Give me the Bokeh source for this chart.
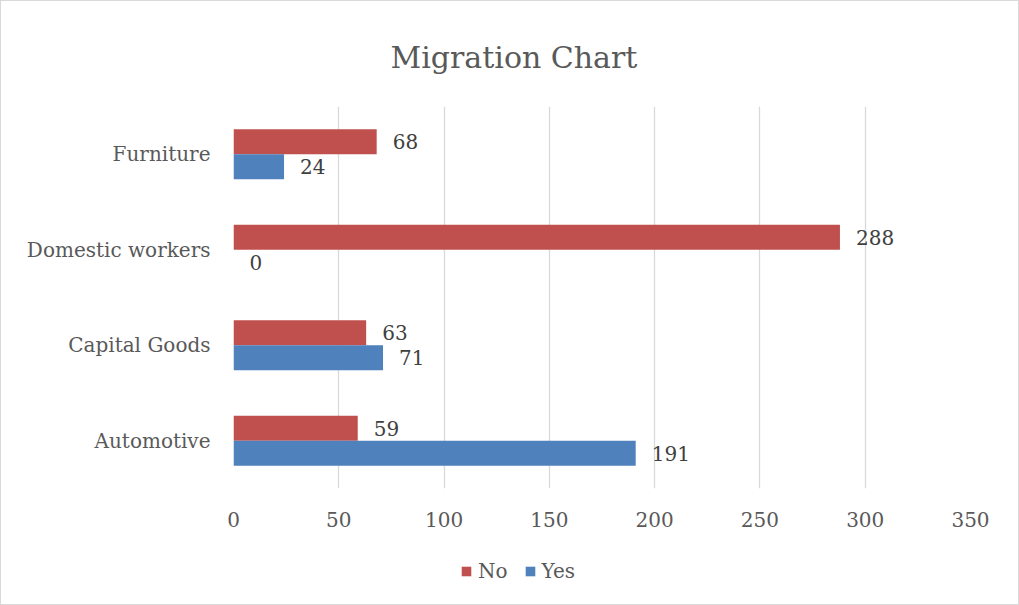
from bokeh.plotting import figure
from bokeh.layouts import column
from bokeh.models import ColumnDataSource, FactorRange, Range1d, FixedTicker, Legend, LegendItem
from bokeh.transform import dodge
from bokeh.core.properties import value
from bokeh.embed import file_html
from bokeh.resources import INLINE

categories = ["Automotive", "Capital Goods", "Domestic workers", "Furniture"]
no_values = [59, 63, 288, 68]
yes_values = [191, 71, 0, 24]
x_ticks = [0, 50, 100, 150, 200, 250, 300, 350]
series_names = ["No", "Yes"]
title_text = "Migration Chart"

FONT = "DejaVu Serif"
RED = "#C0504D"
BLUE = "#4F81BD"

src = ColumnDataSource(dict(
    cat=categories,
    no=no_values,
    yes=yes_values,
    no_lbl=[str(v) for v in no_values],
    yes_lbl=[str(v) for v in yes_values],
))

W = 1017
H_MAIN = 545
H_LEG = 58

p = figure(
    width=W, height=H_MAIN,
    y_range=FactorRange(factors=categories),
    x_range=Range1d(0, 350),
    output_backend="svg", toolbar_location=None,
    min_border_left=232, min_border_right=48,
    min_border_top=105, min_border_bottom=H_MAIN - 487,
    title=title_text,
)

p.title.align = "left"
p.title.offset = 157
p.title.text_font = FONT
p.title.text_font_size = "30px"
p.title.text_font_style = "normal"
p.title.text_color = "#595959"
p.title.standoff = 63

off = 0.131
hh = 0.262
p.hbar(y=dodge("cat", off, range=p.y_range), right="no", left=0, height=hh,
       source=src, fill_color=RED, line_color=None)
p.hbar(y=dodge("cat", -off, range=p.y_range), right="yes", left=0, height=hh,
       source=src, fill_color=BLUE, line_color=None)

p.text(x="no", y=dodge("cat", off, range=p.y_range), text="no_lbl", source=src,
       x_offset=16, text_baseline="middle", text_align="left",
       text_font=value(FONT), text_font_size="20px", text_color="#404040")
p.text(x="yes", y=dodge("cat", -off, range=p.y_range), text="yes_lbl", source=src,
       x_offset=16, text_baseline="middle", text_align="left",
       text_font=value(FONT), text_font_size="20px", text_color="#404040")

p.outline_line_color = None
p.ygrid.grid_line_color = None
p.xgrid.grid_line_color = "#d9d9d9"
p.xgrid.grid_line_width = 1.3
p.xaxis.ticker = FixedTicker(ticks=x_ticks)

for ax in (p.xaxis[0], p.yaxis[0]):
    ax.axis_line_color = None
    ax.major_tick_line_color = None
    ax.minor_tick_line_color = None
    ax.major_tick_out = 0
    ax.major_tick_in = 0
    ax.major_label_text_font = FONT
    ax.major_label_text_font_size = "20px"
    ax.major_label_text_color = "#595959"
p.xaxis.major_label_standoff = 23
p.yaxis.major_label_standoff = 23

# legend strip below the chart (its frame is aligned with the main frame)
lp = figure(width=W, height=H_LEG, x_range=Range1d(0, 1), y_range=Range1d(0, 1),
            output_backend="svg", toolbar_location=None,
            x_axis_location=None, y_axis_location=None,
            min_border=0)
lp.outline_line_color = None
lp.grid.visible = False
# swatch renderers for the legend keys (zero-length, outside the visible range)
lr_no = lp.hbar(y=[-5], right=[0], left=0, height=0.5, fill_color=RED, line_color=None)
lr_yes = lp.hbar(y=[-5], right=[0], left=0, height=0.5, fill_color=BLUE, line_color=None)
legend = Legend(items=[LegendItem(label=series_names[0], renderers=[lr_no]),
                       LegendItem(label=series_names[1], renderers=[lr_yes])],
                orientation="horizontal", location=(227, 21),
                glyph_width=12, glyph_height=12,
                label_text_font=FONT, label_text_font_size="20px",
                label_text_color="#595959", label_standoff=6, spacing=16,
                border_line_color=None, background_fill_alpha=0,
                margin=0, padding=0)
lp.add_layout(legend, "center")

layout = column(p, lp, spacing=0, styles={"border": "1px solid #d9d9d9"})

open("out.html", "w").write(file_html(layout, INLINE))
